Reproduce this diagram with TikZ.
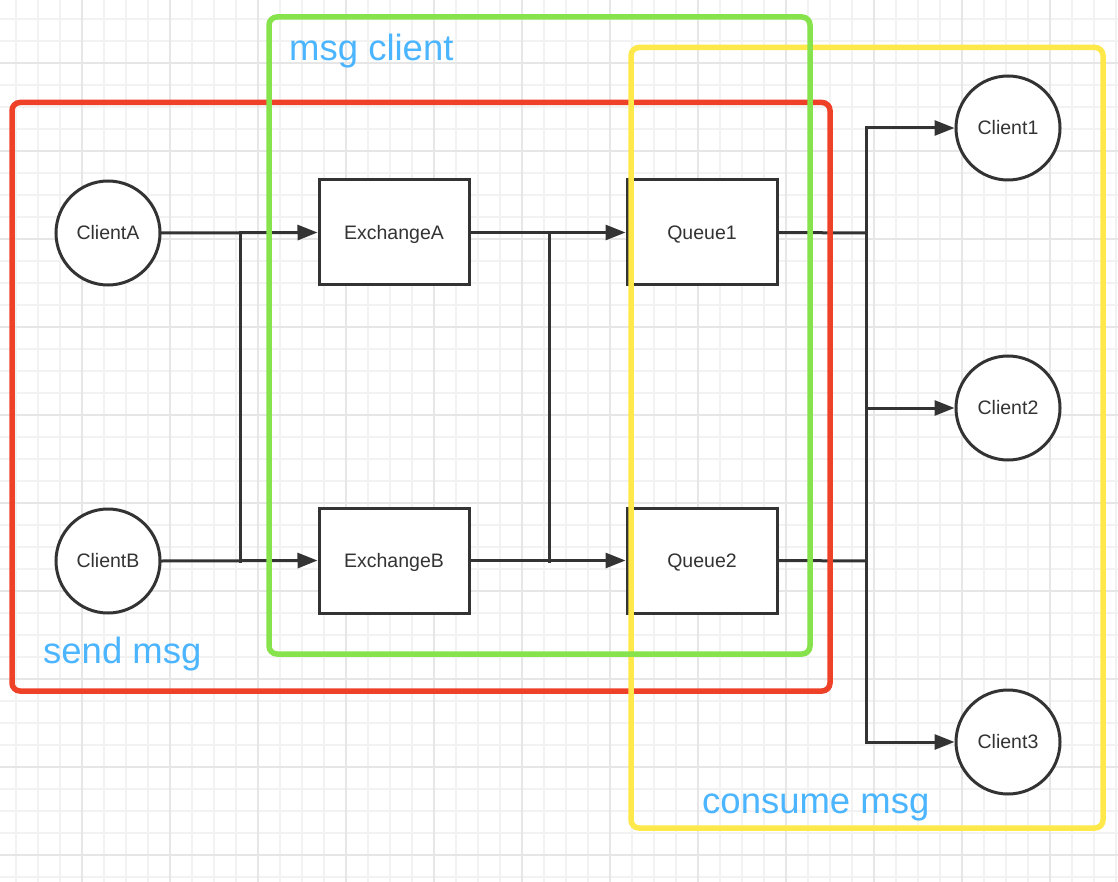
\documentclass[tikz,border=0pt]{standalone}
\usepackage{fontspec}
\setmainfont{Liberation Sans}
\usetikzlibrary{arrows.meta}
\definecolor{ink}{HTML}{333333}
\definecolor{gridminor}{HTML}{F2F2F2}
\definecolor{gridmajor}{HTML}{E6E6E6}
\definecolor{redbox}{HTML}{EE4128}
\definecolor{greenbox}{HTML}{87E34B}
\definecolor{yellowbox}{HTML}{FFE84A}
\definecolor{labelblue}{HTML}{4CB5FF}
\begin{document}
\begin{tikzpicture}[x=1pt,y=-1pt,
  client/.style={circle, draw=ink, line width=3pt, minimum size=104pt, inner sep=0pt,
    font=\fontsize{19.5}{20}\selectfont, text=ink, fill=white, text height=13.5pt, text depth=0pt},
  box/.style={rectangle, draw=ink, line width=3pt, minimum width=150pt, minimum height=105pt,
    inner sep=0pt, font=\fontsize{19.5}{20}\selectfont, text=ink, fill=white, text height=13.5pt, text depth=0pt},
  conn/.style={draw=ink, line width=3pt, line cap=rect},
  arr/.style={conn, -{Triangle[length=20pt,width=15pt]}},
  group/.style={line width=5.5pt, rounded corners=8pt},
  glabel/.style={text=labelblue, font=\fontsize{36.5}{40}\selectfont, inner sep=0pt, anchor=base west},
  minorline/.style={draw=gridminor, line width=1.6pt},
  majorline/.style={draw=gridmajor, line width=1.8pt}]
\useasboundingbox (0,0) rectangle (1118,882);
\fill[white] (0,0) rectangle (1118,882);
% grid
\foreach \x in {16,38,...,1118} \draw[minorline] (\x,0) -- (\x,882);
\foreach \y in {-3,19,...,882} \draw[minorline] (0,\y) -- (1118,\y);
\foreach \x in {82,170,...,1118} \draw[majorline] (\x,0) -- (\x,882);
\foreach \y in {63,151,...,882} \draw[majorline] (0,\y) -- (1118,\y);

% nodes
\node[client] (ClientA) at (108,233) {ClientA};
\node[client] (ClientB) at (108,561) {ClientB};
\node[box] (ExchangeA) at (394,232.5) {ExchangeA};
\node[box] (ExchangeB) at (394,560.5) {ExchangeB};
\node[box] (Queue1) at (702,232.5) {Queue1};
\node[box] (Queue2) at (702,560.5) {Queue2};
\node[client] (Client1) at (1008,128) {Client1};
\node[client] (Client2) at (1008,408) {Client2};
\node[client] (Client3) at (1008,742) {Client3};

% junction coordinates
\coordinate (jA) at (240,233);
\coordinate (jB) at (240,561);
\coordinate (kA) at (549,233);
\coordinate (kB) at (549,561);
\coordinate (t1) at (866,128);
\coordinate (t2) at (866,408);
\coordinate (t3) at (866,742);
\coordinate (q1) at (866,233);
\coordinate (q2) at (866,561);

% connectors
\draw[arr] (ClientA.east) -- (ExchangeA.west);
\draw[arr] (ClientB.east) -- (ExchangeB.west);
\draw[conn] (jA) -- (jB);
\draw[arr] (ExchangeA.east) -- (Queue1.west);
\draw[arr] (ExchangeB.east) -- (Queue2.west);
\draw[conn] (kA) -- (kB);
\draw[conn] (Queue1.east) -- (q1);
\draw[conn] (Queue2.east) -- (q2);
\draw[conn] (t1) -- (t3);
\draw[arr] (t1) -- (Client1.west);
\draw[arr] (t2) -- (Client2.west);
\draw[arr] (t3) -- (Client3.west);

% group boxes
\draw[group, draw=redbox] (12,102.5) rectangle (830,691);
\draw[group, draw=yellowbox] (631,47.5) rectangle (1103,828);
\draw[group, draw=greenbox] (269,17) rectangle (810,654);

% labels
\node[glabel] (lblclient) at (289,61) {msg client};
\node[glabel] (lblsend) at (43,663) {send msg};
\node[glabel] (lblconsume) at (702,813) {consume msg};
\end{tikzpicture}
\end{document}
